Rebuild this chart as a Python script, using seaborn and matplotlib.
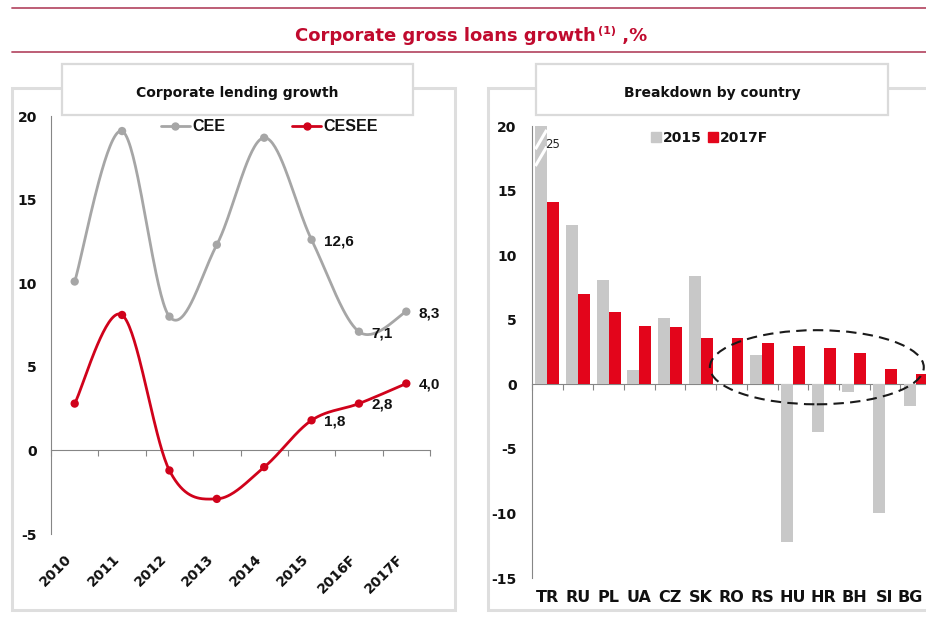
import numpy as np
import pandas as pd
import seaborn as sns
import matplotlib.pyplot as plt
from matplotlib.lines import Line2D
from matplotlib.patches import Rectangle, Ellipse
from matplotlib.transforms import ScaledTranslation

# data
years = ['2010', '2011', '2012', '2013', '2014', '2015', '2016F', '2017F']
cee = [10.1, 19.1, 8.0, 12.3, 18.7, 12.6, 7.1, 8.3]
cesee = [2.8, 8.1, -1.2, -2.9, -1.0, 1.8, 2.8, 4.0]
labelled_years = ['2015', '2016F', '2017F']

countries = ['TR', 'RU', 'PL', 'UA', 'CZ', 'SK', 'RO', 'RS', 'HU', 'HR', 'BH', 'SI', 'BG']
growth_2015 = [25.0, 12.3, 8.1, 1.1, 5.1, 8.4, 0.0, 2.3, -12.2, -3.7, -0.6, -10.0, -1.7]
growth_2017f = [14.1, 7.0, 5.6, 4.5, 4.4, 3.6, 3.6, 3.2, 3.0, 2.8, 2.4, 1.2, 0.8]

GREY_LINE = '#A6A6A6'
RED_LINE = '#D0021B'
GREY_BAR = '#C8C8C8'
RED_BAR = '#E3051B'
TITLE_RED = '#C00A2E'
AXIS_GREY = '#868686'
INK = '#111111'

sns.set_style('white')
plt.rcParams['font.family'] = ['DejaVu Sans']
plt.rcParams['font.weight'] = 'bold'
plt.rcParams['axes.unicode_minus'] = False
plt.rcParams['text.color'] = INK

W, H = 926, 630
fig = plt.figure(figsize=(W / 100, H / 100), dpi=100)


def fx(px):
    return px / W


def fy(py):
    return 1 - py / H


def frame(x0, y0, x1, y1, lw, ec):
    fig.patches.append(Rectangle((fx(x0), fy(y1)), fx(x1) - fx(x0), fy(y0) - fy(y1),
                                 transform=fig.transFigure, facecolor='white',
                                 edgecolor=ec, lw=lw, zorder=-5))


def smooth(y, n=40):
    # excel-style smoothed line through the points (bezier with catmull-rom handles)
    x = np.arange(len(y), dtype=float)
    y = np.asarray(y, dtype=float)
    ex = np.r_[x[0], x, x[-1]]
    ey = np.r_[y[0], y, y[-1]]
    t = np.linspace(0, 1, n)
    xs, ys = [], []
    for i in range(len(y) - 1):
        out = []
        for e in (ex, ey):
            p0, p1, p2, p3 = e[i], e[i + 1], e[i + 2], e[i + 3]
            b1 = p1 + (p2 - p0) / 6
            b2 = p2 - (p3 - p1) / 6
            out.append((1 - t) ** 3 * p1 + 3 * (1 - t) ** 2 * t * b1
                       + 3 * (1 - t) * t ** 2 * b2 + t ** 3 * p2)
        xs.append(out[0])
        ys.append(out[1])
    return np.concatenate(xs), np.concatenate(ys)


# header lines and title
for yy in (8, 52):
    fig.add_artist(Line2D([fx(12), 1], [fy(yy), fy(yy)], color='#B8506A', lw=1.3))

t_main = fig.text(fx(295), fy(41), 'Corporate gross loans growth', color=TITLE_RED,
                  fontsize=13, fontweight='bold', va='baseline', ha='left')
fig.canvas.draw()
r = fig.canvas.get_renderer()
bb = t_main.get_window_extent(r)
t_sup = fig.text(bb.x1 / W + fx(2), fy(41) + 7 / H, '(1)', color=TITLE_RED,
                 fontsize=8, fontweight='bold', va='baseline', ha='left')
bb2 = t_sup.get_window_extent(r)
fig.text(bb2.x1 / W, fy(41), ' ,%', color=TITLE_RED, fontsize=13,
         fontweight='bold', va='baseline', ha='left')

# panel frames
frame(12, 88, 455, 610, 2.2, '#DEDEDE')
frame(488, 88, 960, 610, 2.2, '#DEDEDE')
frame(62, 64, 413, 115, 1.6, '#DADADA')
frame(536, 64, 888, 115, 1.6, '#DADADA')
fig.text(fx(237.5), fy(97), 'Corporate lending growth', fontsize=10, fontweight='bold',
         ha='center', va='baseline', color=INK)
fig.text(fx(712), fy(97), 'Breakdown by country', fontsize=10, fontweight='bold',
         ha='center', va='baseline', color=INK)

# ---------------- left: lending growth lines ----------------
axl = fig.add_axes([fx(51), fy(534), fx(430) - fx(51), fy(116) - fy(534)])
axl.set_facecolor('none')
xpos = np.arange(len(years))
for vals, col in ((cee, GREY_LINE), (cesee, RED_LINE)):
    sx, sy = smooth(vals)
    sns.lineplot(x=sx, y=sy, ax=axl, color=col, lw=2.0, sort=False, estimator=None)
    sns.scatterplot(x=xpos, y=vals, ax=axl, color=col, s=36, edgecolor='none', zorder=3)
    for yr in labelled_years:
        i = years.index(yr)
        axl.annotate(f'{vals[i]:.1f}'.replace('.', ','), (i, vals[i]), xytext=(9, -1),
                     textcoords='offset points', ha='left', va='center',
                     fontsize=11, fontweight='bold', family=['Liberation Sans'],
                     color=INK)

axl.set_xlim(-0.5, len(years) - 0.5)
axl.set_ylim(-5, 20)
axl.set_yticks([-5, 0, 5, 10, 15, 20])
axl.set_xticks(xpos)
axl.set_xticklabels(years, rotation=45, ha='right', va='top')
axl.tick_params(axis='x', length=0, pad=13, labelsize=10, labelcolor=INK)
axl.tick_params(axis='y', length=4, width=0.8, color=AXIS_GREY, pad=6, labelsize=10,
                labelcolor=INK)
for s in ('top', 'right', 'bottom'):
    axl.spines[s].set_visible(False)
axl.spines['left'].set_color(AXIS_GREY)
axl.spines['left'].set_linewidth(0.8)
secl = axl.secondary_xaxis(5 / 25)
secl.set_xticks(np.arange(len(years) + 1) - 0.5)
secl.set_xticklabels([])
secl.tick_params(length=4, width=0.8, color=AXIS_GREY)
secl.spines['bottom'].set_color(AXIS_GREY)
secl.spines['bottom'].set_linewidth(0.8)
axl.set_xlabel('')
axl.set_ylabel('')

hl = [Line2D([], [], color=GREY_LINE, lw=2, marker='o', markersize=5),
      Line2D([], [], color=RED_LINE, lw=2, marker='o', markersize=5)]
axl.legend(hl, ['CEE', 'CESEE'], ncol=2, frameon=False, loc='center left',
           bbox_to_anchor=(0.29, 0.974), borderaxespad=0, borderpad=0,
           handlelength=1.8, handletextpad=0.15, columnspacing=4.2, labelcolor=INK,
           prop={'family': ['Liberation Sans'], 'weight': 'bold', 'size': 11.5})

# ---------------- right: breakdown by country ----------------
axr = fig.add_axes([fx(532), fy(578), 399 / W, fy(126) - fy(578)])
axr.set_facecolor('none')
df = pd.DataFrame({
    'country': countries * 2,
    'value': growth_2015 + growth_2017f,
    'series': ['2015'] * len(countries) + ['2017F'] * len(countries),
})
sns.barplot(data=df, x='country', y='value', hue='series', hue_order=['2015', '2017F'],
            palette={'2015': GREY_BAR, '2017F': RED_BAR}, width=0.78, saturation=1,
            edgecolor='none', linewidth=0, legend=False, ax=axr, zorder=2)
axr.set_xlim(-0.5, len(countries) - 0.5)
axr.set_ylim(-15, 20)
axr.set_yticks([-15, -10, -5, 0, 5, 10, 15, 20])
axr.tick_params(axis='x', length=0, pad=9, labelsize=11.5, labelcolor=INK)
axr.tick_params(axis='y', length=4, width=0.8, color=AXIS_GREY, pad=7, labelsize=10,
                labelcolor=INK)
for s in ('top', 'right', 'bottom'):
    axr.spines[s].set_visible(False)
axr.spines['left'].set_color(AXIS_GREY)
axr.spines['left'].set_linewidth(0.8)
secr = axr.secondary_xaxis(15 / 35)
secr.set_xticks(np.arange(len(countries) + 1) - 0.5)
secr.set_xticklabels([])
secr.tick_params(length=4, width=0.8, color=AXIS_GREY)
secr.spines['bottom'].set_color(AXIS_GREY)
secr.spines['bottom'].set_linewidth(0.8)
axr.set_xlabel('')
axr.set_ylabel('')

# keep the last country label inside the picture
last = axr.get_xticklabels()[-1]
last.set_transform(last.get_transform() + ScaledTranslation(-4 / 72, 0, fig.dpi_scale_trans))

# TR 2015 is off the scale: break marks and value
for y0 in (16.9, 18.2):
    axr.plot([-0.39, -0.02], [y0, y0 + 1.5], color='white', lw=2.2, zorder=4,
             solid_capstyle='butt')
axr.text(-0.08, 18.6, f'{growth_2015[0]:.0f}', fontsize=8.5, fontweight='normal',
         color='#222222', ha='left', va='center', zorder=5)

axr.add_patch(Ellipse((8.78, 1.32), 6.97, 5.74, fill=False, ec='#1a1a1a', lw=1.5,
                      ls=(0, (5, 3)), zorder=5, clip_on=False))

hr = [Line2D([], [], color=GREY_BAR, marker='s', ls='none', markersize=6.5),
      Line2D([], [], color=RED_BAR, marker='s', ls='none', markersize=6.5)]
axr.legend(hr, ['2015', '2017F'], ncol=2, frameon=False, loc='center left',
           bbox_to_anchor=(0.3, 0.973), borderaxespad=0, borderpad=0,
           handlelength=0.6, handletextpad=0.2, columnspacing=0.5, labelcolor=INK,
           prop={'weight': 'bold', 'size': 10})

fig.savefig('out.png', dpi=100)
